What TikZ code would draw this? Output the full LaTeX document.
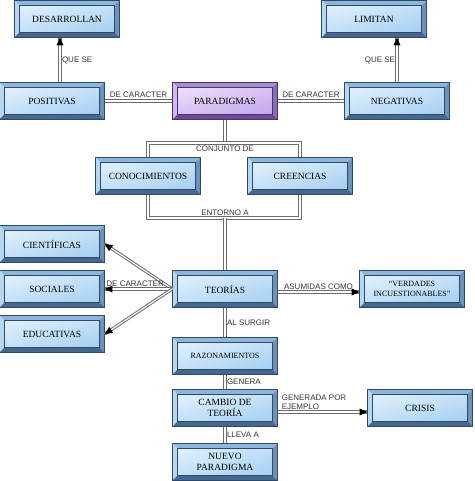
\documentclass[tikz,border=0pt]{standalone}
\usepackage{fontspec}
\setmainfont{Liberation Serif}
\setsansfont{Liberation Sans}
\usetikzlibrary{positioning, shadings, decorations.markings}

% box colours
\definecolor{blufhi}{HTML}{E8F5FE}
\definecolor{bluflo}{HTML}{9DCBF0}
\definecolor{blutop}{HTML}{8DB6DD}
\definecolor{bluleft}{HTML}{B7D7F1}
\definecolor{bluright}{HTML}{6E91B7}
\definecolor{blubot}{HTML}{46678E}
\definecolor{bluline}{HTML}{2E4A6B}
\definecolor{purfhi}{HTML}{F2E8FD}
\definecolor{purflo}{HTML}{BE9DE6}
\definecolor{purtop}{HTML}{A98BD0}
\definecolor{purleft}{HTML}{CEB8EC}
\definecolor{purright}{HTML}{8B6DBA}
\definecolor{purbot}{HTML}{6A4C96}
\definecolor{purline}{HTML}{4A3470}

\tikzset{
  bevel/.style={draw=#1line, line width=0.6pt, minimum width=105pt, minimum height=37pt,
    inner sep=1pt, align=center, font=\fontsize{9.5}{11}\selectfont,
    path picture={
      \coordinate (pa) at (path picture bounding box.south west);
      \coordinate (pb) at (path picture bounding box.north east);
      \coordinate (pc) at (path picture bounding box.north west);
      \coordinate (pd) at (path picture bounding box.south east);
      \shade[upper left=#1fhi, lower right=#1flo, upper right=#1fhi!55!#1flo, lower left=#1fhi!45!#1flo]
        (pa) rectangle (pb);
      \fill[#1top] (pc) -- (pb) -- ([shift={(-5pt,-5pt)}]pb) -- ([shift={(5pt,-5pt)}]pc) -- cycle;
      \fill[#1left] (pa) -- (pc) -- ([shift={(5pt,-5pt)}]pc) -- ([shift={(5pt,5pt)}]pa) -- cycle;
      \fill[#1right] (pd) -- (pb) -- ([shift={(-5pt,-5pt)}]pb) -- ([shift={(-5pt,5pt)}]pd) -- cycle;
      \fill[#1bot] (pa) -- (pd) -- ([shift={(-5pt,5pt)}]pd) -- ([shift={(5pt,5pt)}]pa) -- cycle;
      \draw[#1line, line width=0.4pt] ([shift={(5pt,5pt)}]pa) rectangle ([shift={(-5pt,-5pt)}]pb);
    }},
  tbox/.style={bevel=blu},
  pbox/.style={bevel=pur},
  small/.style={font=\fontsize{8}{10}\selectfont},
  link/.style={draw=gray!85!black, double=white, double distance=1.2pt, line width=1pt},
  tip/.style={postaction={decorate, decoration={markings, mark=at position 0.999 with
    {\fill[black] (0.5pt,0pt) -- (-7.5pt,3.5pt) -- (-7.5pt,-3.5pt) -- cycle;}}}},
  lbl/.style={font=\sffamily\fontsize{8}{9}\selectfont, inner sep=1.5pt, text=black!80}
}

\begin{document}
\begin{tikzpicture}[x=1pt, y=-1pt]
\useasboundingbox (0,0) rectangle (474,481);

\node[tbox] (des) at (67,19) {DESARROLLAN};
\node[tbox] (lim) at (374,19) {LIMITAN};
\node[tbox] (pos) at (52,101) {POSITIVAS};
\node[pbox] (par) at (225,101) {PARADIGMAS};
\node[tbox] (neg) at (397,101) {NEGATIVAS};
\node[tbox] (con) at (148,176) {CONOCIMIENTOS};
\node[tbox] (cre) at (300,176) {CREENCIAS};
\node[tbox] (cie) at (52,244) {CIENTÍFICAS};
\node[tbox] (soc) at (52,289) {SOCIALES};
\node[tbox] (edu) at (52,334) {EDUCATIVAS};
\node[tbox] (teo) at (225,289) {TEORÍAS};
\node[tbox, small] (ver) at (412,289) {“VERDADES\\INCUESTIONABLES”};
\node[tbox, small] (raz) at (225,356) {RAZONAMIENTOS};
\node[tbox] (cam) at (225,408) {CAMBIO DE\\TEORÍA};
\node[tbox] (cri) at (420,408) {CRISIS};
\node[tbox] (nue) at (225,462) {NUEVO\\PARADIGMA};

\coordinate (cj) at (225,143);
\coordinate (en) at (225,218);

% top row
\draw[link, tip] ([xshift=8pt]pos.north) -- node[lbl, right] (qs1) {QUE SE} ([xshift=8pt]pos.north |- des.south);
\draw[link, tip] (neg.north) -- node[lbl, left] (qs2) {QUE SE} (neg.north |- lim.south);
\draw[link] (pos) -- node[lbl, above=1pt] (dc1) {DE CARACTER} (par);
\draw[link] (par) -- node[lbl, above=1pt] (dc2) {DE CARACTER} (neg);

% bracket
\draw[link] (par) -- (cj);
\draw[link] (con.north) |- (cj) -| (cre.north);
\node[lbl, below=1pt of cj] (cjl) {CONJUNTO DE};
\draw[link] (con.south) |- (en) -| (cre.south);
\node[lbl, above=1pt of en] (enl) {ENTORNO A};
\draw[link] (en) -- (teo);

% teorias
\draw[link, tip] (teo.west) -- (cie.east);
\draw[link, tip] (teo.west) -- node[lbl, above, pos=0.55] (dc3) {DE CARACTER} (soc.east);
\draw[link, tip] (teo.west) -- (edu.east);
\draw[link, tip] ([yshift=-3pt]teo.east) -- node[lbl, above] (asu) {ASUMIDAS COMO} ([yshift=-3pt]ver.west);
\draw[link] (teo) -- node[lbl, right] (als) {AL SURGIR} (raz);
\draw[link] (raz) -- node[lbl, right] (gen) {GENERA} (cam);
\draw[link] (cam) -- node[lbl, right] (lle) {LLEVA A} (nue);
\draw[link, tip] ([yshift=-4pt]cam.east) -- node[lbl, pos=0, above right, align=left, xshift=2pt] (gpe) {GENERADA POR\\EJEMPLO} ([yshift=-4pt]cri.west);
\end{tikzpicture}
\end{document}
